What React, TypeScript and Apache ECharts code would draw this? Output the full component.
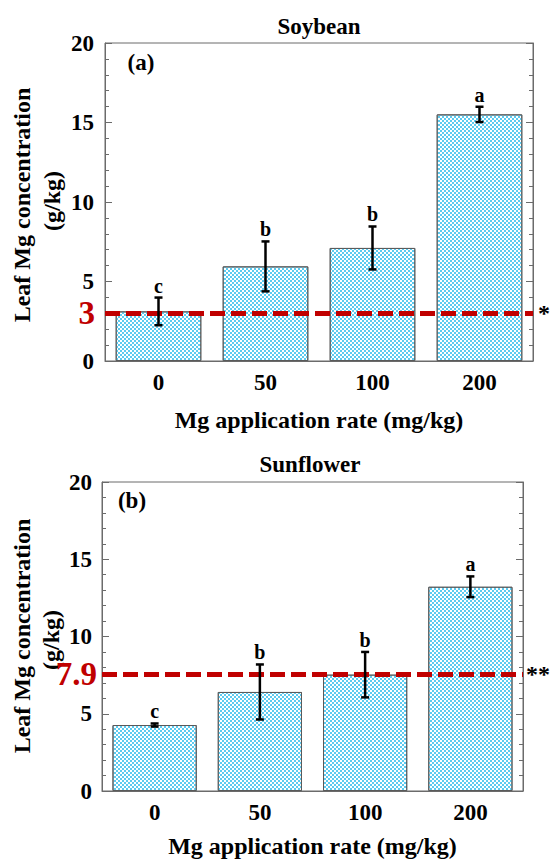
import React, { useEffect, useRef } from 'react';
import * as echarts from 'echarts';

// ---- data ----
const categories = ['0', '50', '100', '200'];

const soyMeans = [3.12, 5.95, 7.11, 15.51];
const soyErrors = [0.87, 1.57, 1.35, 0.48];
const soyLetters = ['c', 'b', 'b', 'a'];

const sunMeans = [4.27, 6.41, 7.53, 13.22];
const sunErrors = [0.1, 1.78, 1.47, 0.67];
const sunLetters = ['c', 'b', 'b', 'a'];

const yMin = 0;
const yMax = 20;
const yInterval = 5;

const soyLineValue = 3;
const soyLineLabel = '3';
const soyMark = '*';

const sunLineValue = 7.55;
const sunLineLabel = '7.9';
const sunMark = '**';

const titles = ['Soybean', 'Sunflower'];
const panelLabels = ['(a)', '(b)'];
const yName1 = 'Leaf Mg concentration';
const yName2 = '(g/kg)';
const xName = 'Mg application rate (mg/kg)';

// ---- styles ----
const SERIF = '"Liberation Serif", "Times New Roman", serif';
const FRAME = '#6b6b6b';
const RED = '#c00000';

function errRender(letters: string[]) {
  return (params: any, api: any) => {
    const i = api.value(0);
    const m = api.value(1);
    const e = api.value(2);
    const top = api.coord([i, m + e]);
    const bot = api.coord([i, m - e]);
    const x = top[0];
    const cap = 4;
    const ls = { stroke: '#000', lineWidth: 2.5 };
    return {
      type: 'group',
      children: [
        { type: 'line', shape: { x1: x, y1: top[1], x2: x, y2: bot[1] }, style: ls },
        { type: 'line', shape: { x1: x - cap, y1: top[1], x2: x + cap, y2: top[1] }, style: ls },
        { type: 'line', shape: { x1: x - cap, y1: bot[1], x2: x + cap, y2: bot[1] }, style: ls },
        {
          type: 'text',
          x: x,
          y: top[1] - 2,
          style: {
            text: letters[params.dataIndex],
            align: 'center',
            verticalAlign: 'bottom',
            font: `bold 20px ${SERIF}`,
            fill: '#000',
          },
        },
      ],
    };
  };
}

function yAxes(gridIndex: number, margin: number) {
  const common = {
    type: 'value',
    gridIndex,
    min: yMin,
    max: yMax,
    interval: yInterval,
    splitLine: { show: false },
    axisLine: { show: true, lineStyle: { color: FRAME, width: 1 } },
    axisTick: { show: true, inside: true, length: 7, lineStyle: { color: FRAME } },
    minorTick: { show: true, splitNumber: 5, length: 4, lineStyle: { color: FRAME } },
  };
  return [
    {
      ...common,
      position: 'left',
      axisLabel: {
        show: true,
        margin,
        color: '#000',
        fontSize: 23,
        fontWeight: 'bold',
        fontFamily: SERIF,
      },
    },
    {
      ...common,
      position: 'right',
      axisLabel: { show: false },
    },
  ];
}

function xAxis(gridIndex: number, nameGap: number) {
  return {
    type: 'category',
    gridIndex,
    data: categories,
    axisTick: { show: false },
    axisLine: { show: true, lineStyle: { color: FRAME, width: 1 } },
    axisLabel: {
      color: '#000',
      fontSize: 23,
      fontWeight: 'bold',
      fontFamily: SERIF,
      margin: 10,
    },
    name: xName,
    nameLocation: 'middle',
    nameGap,
    nameTextStyle: { color: '#000', fontSize: 24, fontWeight: 'bold', fontFamily: SERIF },
  };
}

function barSeries(
  xIdx: number,
  yIdx: number,
  means: number[],
  lineValue: number,
  lineLabel: string,
  mark: string,
  startDist: number,
  endDist: number
) {
  return {
    type: 'bar',
    xAxisIndex: xIdx,
    yAxisIndex: yIdx,
    data: means,
    barCategoryGap: '20%',
    itemStyle: {
      color: '#ffffff',
      borderColor: '#5a5a5a',
      borderWidth: 1,
      decal: {
        symbol: 'rect',
        symbolSize: 1,
        color: '#5ccbf0',
        dashArrayX: [
          [2, 2],
          [0, 2, 2, 0],
        ],
        dashArrayY: [2, 0],
        rotation: 0,
      },
    },
    markLine: {
      silent: true,
      symbol: ['none', 'none'],
      z: 5,
      data: [
        {
          yAxis: lineValue,
          lineStyle: { color: RED, width: 5, type: [15, 6] },
          label: {
            show: true,
            position: 'start',
            formatter: lineLabel,
            distance: startDist,
            color: RED,
            fontSize: 33,
            fontWeight: 'bold',
            fontFamily: SERIF,
          },
        },
        {
          yAxis: lineValue,
          lineStyle: { color: 'rgba(0,0,0,0)', width: 1, type: 'solid' },
          label: {
            show: true,
            position: 'end',
            formatter: mark,
            distance: endDist,
            color: '#000',
            fontSize: 24,
            fontWeight: 'bold',
            fontFamily: SERIF,
          },
        },
      ],
    },
  };
}

function errSeries(xIdx: number, yIdx: number, means: number[], errors: number[], letters: string[]) {
  return {
    type: 'custom',
    xAxisIndex: xIdx,
    yAxisIndex: yIdx,
    z: 10,
    encode: { x: 0, y: 1 },
    data: means.map((m, i) => [i, m, errors[i]]),
    renderItem: errRender(letters),
  };
}

function rotText(text: string, x: number, y: number, size: number) {
  return {
    type: 'text',
    x,
    y,
    rotation: Math.PI / 2,
    style: {
      text,
      align: 'center',
      verticalAlign: 'middle',
      font: `bold ${size}px ${SERIF}`,
      fill: '#000',
    },
  };
}

function plainText(text: string, x: number, y: number, size: number) {
  return {
    type: 'text',
    x,
    y,
    style: {
      text,
      align: 'center',
      verticalAlign: 'middle',
      font: `bold ${size}px ${SERIF}`,
      fill: '#000',
    },
  };
}

export default function App() {
  const ref = useRef<HTMLDivElement>(null);

  useEffect(() => {
    document.body.style.margin = '0';
    if (!ref.current) return;
    const chart = echarts.init(ref.current, undefined, { renderer: 'svg' });

    const option: any = {
      animation: false,
      backgroundColor: '#ffffff',
      grid: [
        { left: 105, top: 43, width: 428, height: 318, show: true, borderColor: FRAME, borderWidth: 1, containLabel: false },
        { left: 102, top: 482, width: 421, height: 311, show: true, borderColor: FRAME, borderWidth: 1, containLabel: false },
      ],
      xAxis: [xAxis(0, 47), xAxis(1, 43)],
      yAxis: [...yAxes(0, 11), ...yAxes(1, 10)],
      series: [
        barSeries(0, 0, soyMeans, soyLineValue, soyLineLabel, soyMark, 10, 5),
        errSeries(0, 0, soyMeans, soyErrors, soyLetters),
        barSeries(1, 2, sunMeans, sunLineValue, sunLineLabel, sunMark, 5, 3),
        errSeries(1, 2, sunMeans, sunErrors, sunLetters),
      ],
      graphic: [
        plainText(titles[0], 319, 26, 23),
        plainText(titles[1], 310, 464, 23),
        plainText(panelLabels[0], 141, 62, 23),
        plainText(panelLabels[1], 132, 500, 23),
        rotText(yName1, 22, 205, 24),
        rotText(yName2, 52, 201, 24),
        rotText(yName1, 22, 636, 24),
        rotText(yName2, 51, 640, 24),
      ],
    };
    chart.setOption(option);
    return () => chart.dispose();
  }, []);

  return <div ref={ref} style={{ width: 550, height: 859 }} />;
}
